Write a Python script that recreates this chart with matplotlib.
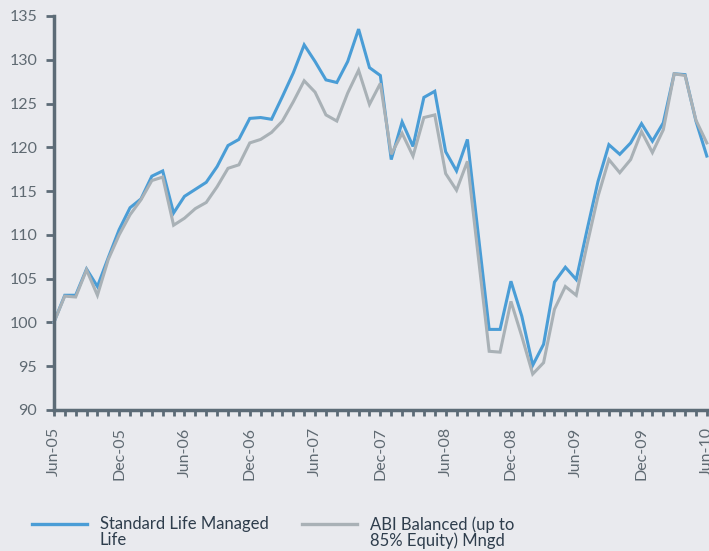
import numpy as np
import matplotlib.pyplot as plt
from matplotlib.lines import Line2D
from matplotlib.ticker import MultipleLocator

# monthly index values, Jun-05 .. Jun-10
std_life = [100.0, 103.1, 103.1, 106.1, 104.1, 107.4, 110.6, 113.1, 114.1, 116.7,
            117.3, 112.5, 114.4, 115.2, 116.0, 117.8, 120.2, 120.9, 123.3, 123.4,
            123.2, 125.8, 128.5, 131.7, 129.8, 127.7, 127.4, 129.8, 133.5, 129.1,
            128.2, 118.6, 122.9, 120.1, 125.7, 126.4, 119.5, 117.3, 120.9, 110.0,
            99.2, 99.2, 104.7, 100.7, 95.1, 97.5, 104.6, 106.3, 104.9, 110.6,
            116.1, 120.3, 119.2, 120.5, 122.7, 120.7, 122.8, 128.4, 128.3, 123.0,
            119.0]
abi_bal = [100.0, 103.0, 102.9, 106.0, 103.1, 107.2, 110.0, 112.3, 114.0, 116.2,
           116.6, 111.1, 111.9, 113.0, 113.7, 115.5, 117.6, 118.0, 120.5, 120.9,
           121.7, 123.0, 125.2, 127.6, 126.3, 123.7, 123.0, 126.2, 128.8, 124.9,
           127.3, 119.2, 121.6, 119.0, 123.4, 123.7, 117.0, 115.1, 118.4, 107.5,
           96.7, 96.6, 102.4, 98.4, 94.1, 95.4, 101.5, 104.1, 103.1, 108.9,
           114.4, 118.6, 117.1, 118.6, 121.8, 119.4, 122.0, 128.4, 128.2, 123.1,
           120.5]
tick_labels = ['Jun-05', 'Dec-05', 'Jun-06', 'Dec-06', 'Jun-07', 'Dec-07',
               'Jun-08', 'Dec-08', 'Jun-09', 'Dec-09', 'Jun-10']
series_names = ['Standard Life Managed\nLife', 'ABI Balanced (up to\n85% Equity) Mngd']

bg = '#e9eaee'
axis_col = '#5c6b76'
text_col = '#5f6a72'
blue = '#4a9dd6'
grey = '#a9b1b6'

plt.rcParams['font.family'] = ['Lato', 'DejaVu Sans']

fig = plt.figure(figsize=(7.09, 5.51), dpi=100, facecolor=bg)
ax = fig.add_axes([0.076, 0.256, 0.924, 0.715], facecolor=bg)

months = np.arange(len(std_life))
ax.plot(months, std_life, color=blue, lw=2.2, solid_joinstyle='miter', clip_on=False)
ax.plot(months, abi_bal, color=grey, lw=2.2, solid_joinstyle='miter', clip_on=False)

ax.set_ylim(90, 135)
ax.set_xlim(0, 60.2)
ax.yaxis.set_major_locator(MultipleLocator(5))
ax.set_xticks(np.arange(0, 61, 6))
ax.set_xticklabels(tick_labels, rotation=90)
ax.xaxis.set_minor_locator(MultipleLocator(1))

for s in ['top', 'right']:
    ax.spines[s].set_visible(False)
for s in ['left', 'bottom']:
    ax.spines[s].set_color(axis_col)
    ax.spines[s].set_linewidth(2.5)

ax.tick_params(axis='y', direction='out', length=6, width=2, color=axis_col,
               labelcolor=text_col, labelsize=11.5, pad=6)
ax.tick_params(axis='x', which='both', direction='out', length=4.5, width=2,
               color=axis_col, labelcolor=text_col, labelsize=11.5, pad=8)

# legend drawn along the bottom
for x0, x_txt, col, name in [(0.045, 0.141, blue, series_names[0]),
                             (0.426, 0.522, grey, series_names[1])]:
    fig.add_artist(Line2D([x0, x0 + 0.078], [0.049, 0.049], color=col, lw=2.4,
                          transform=fig.transFigure))
    fig.text(x_txt, 0.063, name, color='#2e3d4c', fontsize=12,
             va='top', ha='left', linespacing=0.95)

fig.savefig('out.png', dpi=100, facecolor=bg)
